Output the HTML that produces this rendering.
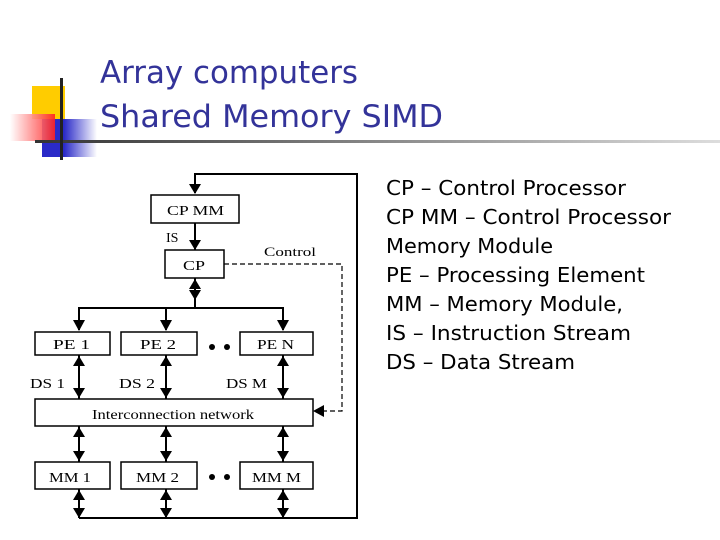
<!DOCTYPE html>
<html><head><style>body{margin:0;background:#fff}svg{display:block}</style></head><body>
<svg width="720" height="540" xmlns="http://www.w3.org/2000/svg">
<defs>
<linearGradient id="gr" x1="0" x2="1"><stop offset="0" stop-color="#fff"/><stop offset="1" stop-color="#ff2020"/></linearGradient>
<linearGradient id="gb" x1="0" x2="1"><stop offset="0.4" stop-color="#2a2ac8"/><stop offset="1" stop-color="#fff"/></linearGradient>
<linearGradient id="gl" x1="0" x2="1"><stop offset="0" stop-color="#333"/><stop offset="0.5" stop-color="#888"/><stop offset="1" stop-color="#ddd"/></linearGradient>
</defs>
<rect x="32" y="86" width="33" height="33" fill="#ffcc00"/>
<rect x="42" y="119" width="55" height="38" fill="url(#gb)"/>
<rect x="10" y="114" width="45" height="27" fill="url(#gr)" opacity="0.9"/>
<rect x="35" y="140" width="685" height="3" fill="url(#gl)"/>
<rect x="60" y="78" width="3" height="82" fill="#222"/>
<g font-family="'DejaVu Sans','Liberation Sans',sans-serif" fill="#333399" font-size="31">
<text x="100" y="83" textLength="258" lengthAdjust="spacingAndGlyphs">Array computers</text>
<text x="100" y="127" textLength="343" lengthAdjust="spacingAndGlyphs">Shared Memory SIMD</text>
</g>
<g font-family="'DejaVu Sans','Liberation Sans',sans-serif" fill="#000" font-size="20">
<text x="386" y="195" textLength="240" lengthAdjust="spacingAndGlyphs">CP – Control Processor</text>
<text x="386" y="224" textLength="285" lengthAdjust="spacingAndGlyphs">CP MM – Control Processor</text>
<text x="386" y="253" textLength="167" lengthAdjust="spacingAndGlyphs">Memory Module</text>
<text x="386" y="282" textLength="259" lengthAdjust="spacingAndGlyphs">PE – Processing Element</text>
<text x="386" y="311" textLength="237" lengthAdjust="spacingAndGlyphs">MM – Memory Module,</text>
<text x="386" y="340" textLength="245" lengthAdjust="spacingAndGlyphs">IS – Instruction Stream</text>
<text x="386" y="369" textLength="189" lengthAdjust="spacingAndGlyphs">DS – Data Stream</text>
</g>
<g stroke="#000" stroke-width="2" fill="none">
<polyline points="195,193 195,174 357,174 357,518 79,518"/>
<line x1="195" y1="223" x2="195" y2="250"/>
<line x1="195" y1="278" x2="195" y2="308"/>
<polyline points="79,330 79,308 283,308 283,330"/>
<line x1="166" y1="308" x2="166" y2="330"/>
<rect x="151" y="195" width="88" height="28" stroke-width="1.5"/>
<rect x="165" y="250" width="59" height="28" stroke-width="1.5"/>
<rect x="35" y="332" width="75" height="23" stroke-width="1.5"/>
<rect x="121" y="332" width="76" height="23" stroke-width="1.5"/>
<rect x="240" y="332" width="73" height="23" stroke-width="1.5"/>
<rect x="35" y="399" width="278" height="27" stroke-width="1.5"/>
<rect x="35" y="462" width="75" height="27" stroke-width="1.5"/>
<rect x="121" y="462" width="76" height="27" stroke-width="1.5"/>
<rect x="240" y="462" width="73" height="27" stroke-width="1.5"/>
<line x1="79" y1="355" x2="79" y2="399"/><line x1="166" y1="355" x2="166" y2="399"/><line x1="283" y1="355" x2="283" y2="399"/>
<line x1="79" y1="426" x2="79" y2="462"/><line x1="166" y1="426" x2="166" y2="462"/><line x1="283" y1="426" x2="283" y2="462"/>
<line x1="79" y1="489" x2="79" y2="518"/><line x1="166" y1="489" x2="166" y2="518"/><line x1="283" y1="489" x2="283" y2="518"/>
<polyline points="224,264 342,264 342,411 322,411" stroke-width="1.2" stroke-dasharray="5,3"/>
</g>
<g fill="#000">
<polygon points="189,184 201,184 195,194"/>
<polygon points="189,240 201,240 195,250"/>
<polygon points="189,289 201,289 195,279"/><polygon points="189,290 201,290 195,300"/>
<polygon points="73,320 85,320 79,331"/><polygon points="160,320 172,320 166,331"/><polygon points="277,320 289,320 283,331"/>
<polygon points="313,411 324,405 324,417"/>
<g id="da">
<polygon points="73,366 85,366 79,356"/><polygon points="73,388 85,388 79,398"/>
<polygon points="73,437 85,437 79,427"/><polygon points="73,451 85,451 79,461"/>
<polygon points="73,500 85,500 79,490"/><polygon points="73,508 85,508 79,518"/>
</g>
<use href="#da" x="87"/><use href="#da" x="204"/>
<circle cx="212" cy="347" r="3"/><circle cx="227" cy="347" r="3"/>
<circle cx="212" cy="477" r="3"/><circle cx="227" cy="477" r="3"/>
</g>
<g font-family="'Liberation Serif',serif" font-size="14" fill="#000">
<text x="167" y="215" textLength="57" lengthAdjust="spacingAndGlyphs">CP MM</text>
<text x="166" y="242">IS</text>
<text x="183" y="270" textLength="22" lengthAdjust="spacingAndGlyphs">CP</text>
<text x="264" y="256" font-size="13" textLength="52" lengthAdjust="spacingAndGlyphs">Control</text>
<text x="53" y="349" textLength="37" lengthAdjust="spacingAndGlyphs">PE 1</text>
<text x="140" y="349" textLength="36" lengthAdjust="spacingAndGlyphs">PE 2</text>
<text x="257" y="349" textLength="37" lengthAdjust="spacingAndGlyphs">PE N</text>
<text x="30" y="388" textLength="35" lengthAdjust="spacingAndGlyphs">DS 1</text>
<text x="119" y="388" textLength="36" lengthAdjust="spacingAndGlyphs">DS 2</text>
<text x="226" y="388" textLength="41" lengthAdjust="spacingAndGlyphs">DS M</text>
<text x="92" y="419" textLength="162" lengthAdjust="spacingAndGlyphs">Interconnection network</text>
<text x="49" y="482" textLength="42" lengthAdjust="spacingAndGlyphs">MM 1</text>
<text x="136" y="482" textLength="43" lengthAdjust="spacingAndGlyphs">MM 2</text>
<text x="252" y="482" textLength="49" lengthAdjust="spacingAndGlyphs">MM M</text>
</g>
</svg>
</body></html>
